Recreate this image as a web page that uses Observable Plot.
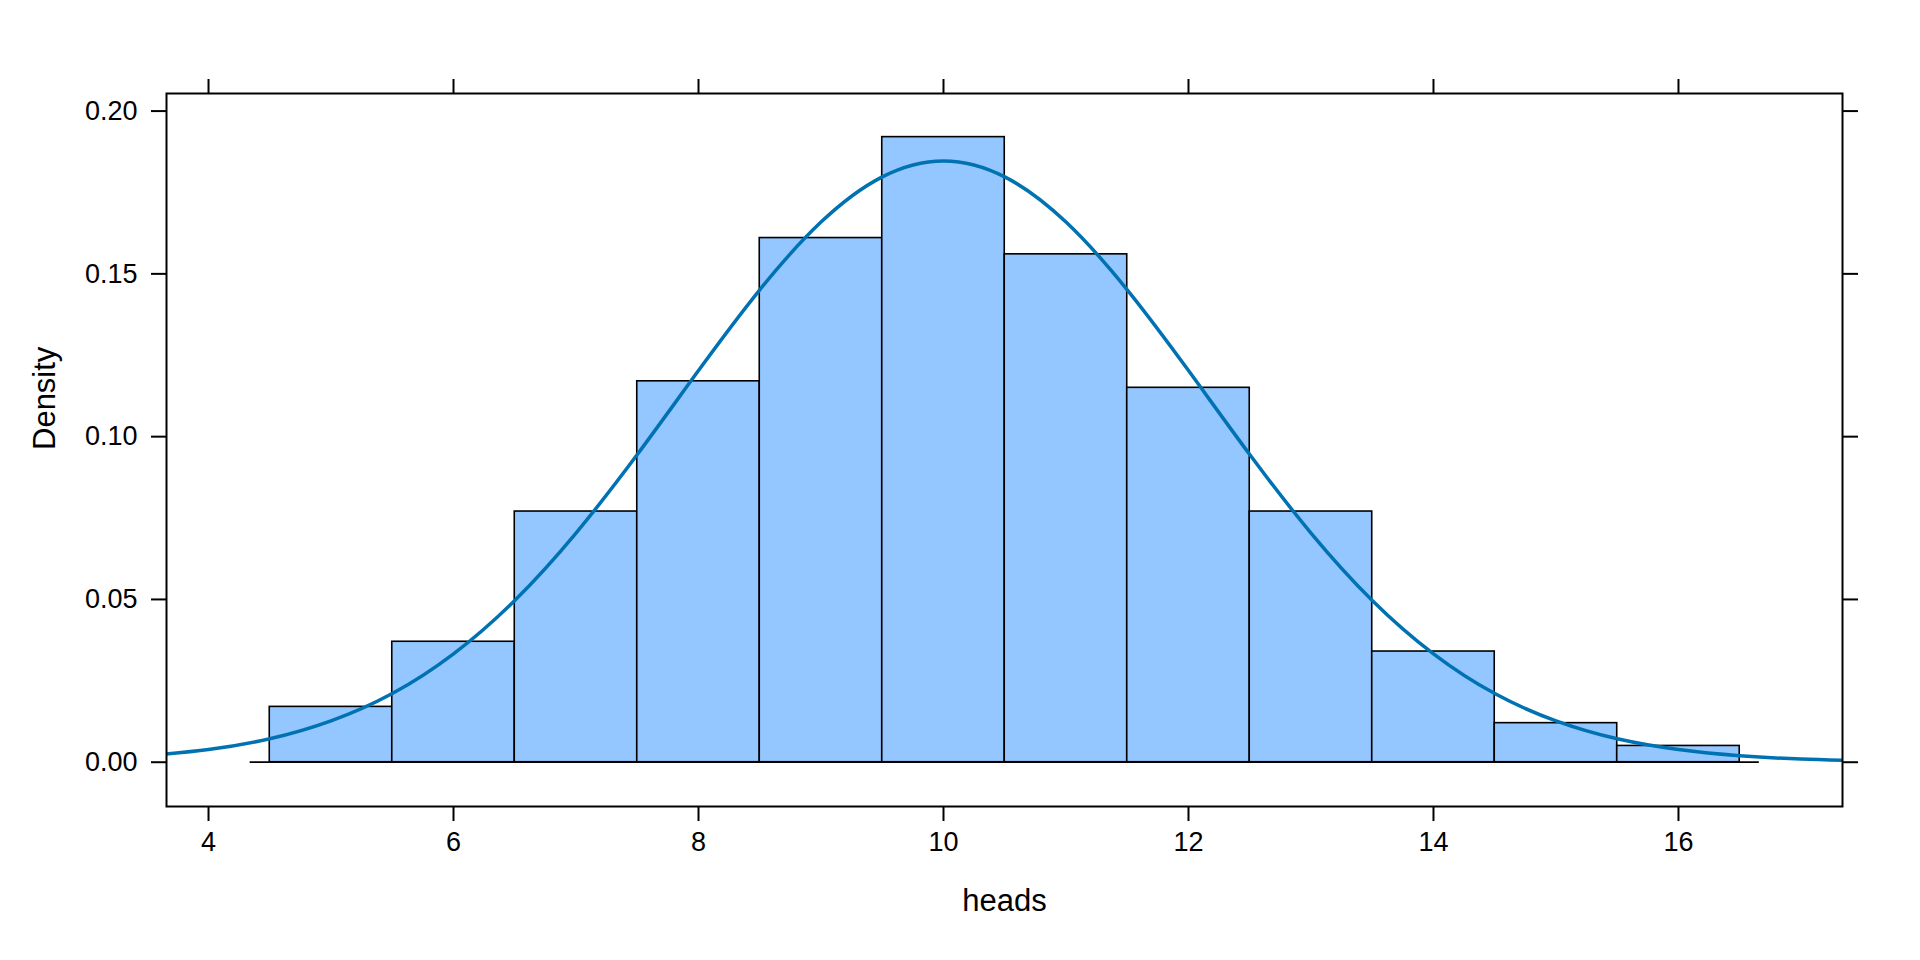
<!DOCTYPE html>
<html>
<head>
<meta charset="utf-8">
<script src="https://cdn.jsdelivr.net/npm/d3@7"></script>
<script src="https://cdn.jsdelivr.net/npm/@observablehq/plot@0.6"></script>
<style>
  html, body { margin: 0; padding: 0; background: #fff; }
  #chart svg { display: block; }
</style>
</head>
<body>
<div id="chart"></div>
<script>
// Histogram bins (lower edge, upper edge) and density heights
const binLower = [4.5, 5.5, 6.5, 7.5, 8.5, 9.5, 10.5, 11.5, 12.5, 13.5, 14.5, 15.5];
const binUpper = [5.5, 6.5, 7.5, 8.5, 9.5, 10.5, 11.5, 12.5, 13.5, 14.5, 15.5, 16.5];
const binDensity = [0.017, 0.037, 0.077, 0.117, 0.161, 0.192, 0.156, 0.115, 0.077, 0.034, 0.012, 0.005];

// Density curve, values
const curveX = [3.5, 4, 4.5, 5, 5.5, 6, 6.5, 7, 7.5, 8, 8.5, 9, 9.5, 10, 10.5, 11, 11.5, 12, 12.5, 13, 13.5, 14, 14.5, 15, 15.5, 16, 16.5, 17, 17.5];
const curveY = [0.0020, 0.0039, 0.0072, 0.0127, 0.0211, 0.0333, 0.0497, 0.0704, 0.0945, 0.1203, 0.1451, 0.1659, 0.1798, 0.1847,
                0.1798, 0.1659, 0.1451, 0.1203, 0.0945, 0.0704, 0.0497, 0.0333, 0.0211, 0.0127, 0.0072, 0.0039, 0.0020, 0.00097, 0.00044];

// Baseline extent (x values)
const baselineRange = [4.34, 16.66];

// Axis ticks
const xTicks = [4, 6, 8, 10, 12, 14, 16];
const yTicks = [0, 0.05, 0.10, 0.15, 0.20];
const xDomain = [3.657, 17.339];
const yDomain = [-0.0136, 0.2054];

const bins = binLower.map((lo, i) => ({x1: lo, x2: binUpper[i], y: binDensity[i]}));
const curve = curveX.map((x, i) => ({x, y: curveY[i]}));

const font = "'Liberation Sans', Arial, Helvetica, sans-serif";

const chart = Plot.plot({
  width: 1920,
  height: 960,
  marginLeft: 166,
  marginRight: 78,
  marginTop: 93,
  marginBottom: 154,
  style: {fontFamily: font, fontSize: "27px", color: "black", background: "white"},
  x: {domain: xDomain},
  y: {domain: yDomain},
  marks: [
    Plot.rectY(bins, {x1: "x1", x2: "x2", y1: 0, y2: "y", fill: "#94C6FF", stroke: "black", strokeWidth: 1.6}),
    Plot.ruleY([0], {x1: baselineRange[0], x2: baselineRange[1], stroke: "black", strokeWidth: 1.8}),
    Plot.line(curve, {x: "x", y: "y", stroke: "#0072B2", strokeWidth: 3.5, curve: "natural", clip: true}),
    Plot.frame({stroke: "black", strokeWidth: 2}),
    Plot.axisX({anchor: "bottom", ticks: xTicks, tickSize: 15, tickPadding: 10, strokeWidth: 2, fontSize: 27, label: null, tickFormat: d3.format("d")}),
    Plot.axisX({anchor: "top", ticks: xTicks, tickSize: 15, strokeWidth: 2, label: null, tickFormat: () => ""}),
    Plot.axisY({anchor: "left", ticks: yTicks, tickSize: 15, tickPadding: 14, strokeWidth: 2, fontSize: 27, label: null, tickFormat: d3.format(".2f")}),
    Plot.axisY({anchor: "right", ticks: yTicks, tickSize: 15, strokeWidth: 2, label: null, tickFormat: () => ""}),
    Plot.text(["heads"], {frameAnchor: "bottom", dy: 95, text: d => d, fontSize: 31, lineAnchor: "middle"}),
    Plot.text(["Density"], {frameAnchor: "left", dx: -121, rotate: -90, text: d => d, fontSize: 31, lineAnchor: "middle"})
  ]
});

document.getElementById("chart").appendChild(chart);
</script>
</body>
</html>
